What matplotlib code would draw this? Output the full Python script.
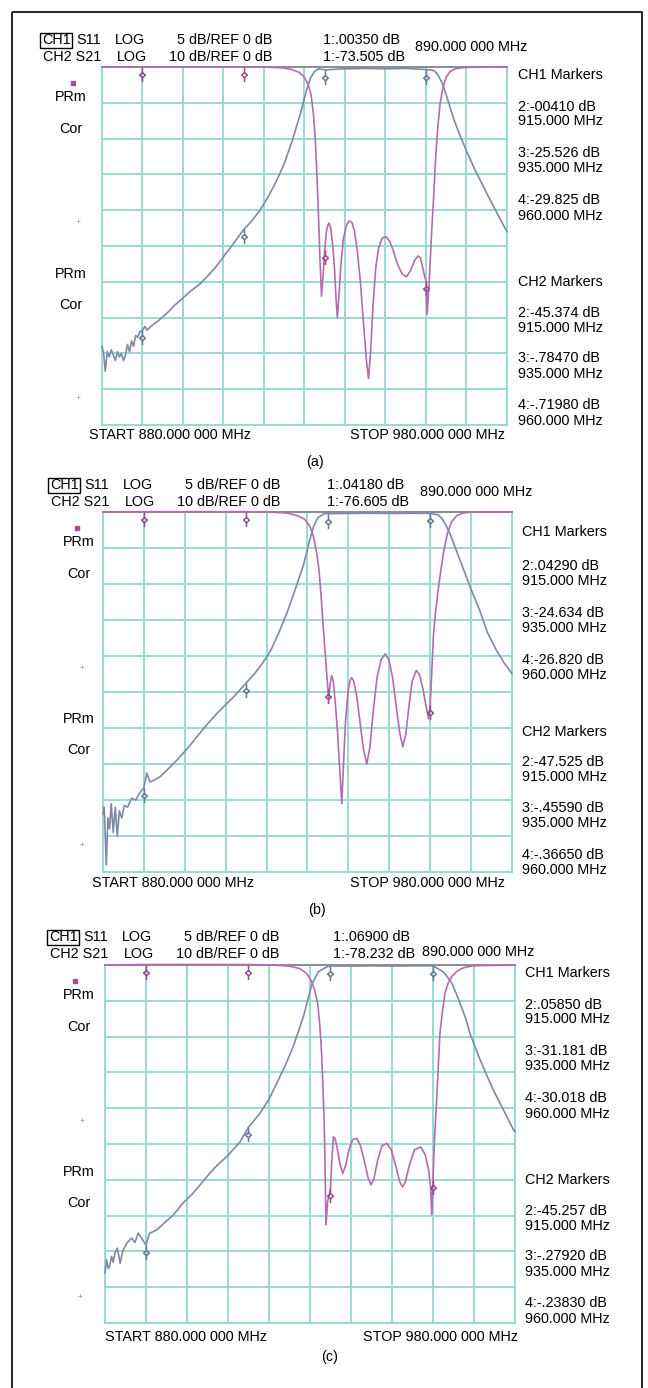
import numpy as np
import matplotlib
matplotlib.use('Agg')
import matplotlib.pyplot as plt
from matplotlib.path import Path
from matplotlib.patches import Rectangle

plt.rcParams['font.family'] = ['Liberation Sans', 'DejaVu Sans']

W, H = 648, 1388
FS = 10.4

''' network analyser traces, CH1 = S11 (5 dB/div), CH2 = S21 (10 dB/div) '''
mk_freq = [890, 915, 935, 960]
mk_freq_txt = ['915.000 MHz', '935.000 MHz', '960.000 MHz']

# (a)
s21_f_a = [880.0, 880.4, 880.8, 881.3, 881.8, 882.3, 882.8, 883.3, 883.8, 884.3, 884.8, 885.3,
           885.8, 886.3, 886.8, 887.3, 887.8, 888.3, 888.8, 889.3, 890.0, 890.6, 891.2, 892.0,
           894.0, 896.0, 898.0, 900.0, 902.0, 904.0, 906.0, 908.0, 910.0, 912.0, 915.0, 917.0,
           919.0, 921.0, 923.0, 925.0, 927.0, 929.0, 930.5, 931.5, 932.5, 933.5, 935.0, 940.0,
           945.0, 950.0, 955.0, 960.0, 962.0, 963.0, 964.0, 965.0, 966.0, 967.0, 968.0, 970.0,
           972.0, 974.0, 976.0, 978.0, 980.0]
s21_db_a = [-78, -80, -85, -79.5, -81, -79, -80.5, -82, -79.5, -81, -80, -82,
            -80.5, -77.5, -79.5, -76.5, -78, -75, -75.5, -74, -73.5, -72.5, -73.5, -72.5,
            -70.8, -68.8, -66.5, -64.5, -62.5, -60.8, -58.5, -56, -53, -50, -45.4, -43,
            -40, -36.3, -32, -27, -20.5, -13, -6.5, -3, -1.2, -0.5, -0.8, -0.5,
            -0.4, -0.5, -0.4, -0.7, -1.0, -2.3, -4.5, -7.8, -11.5, -15, -18, -23.5,
            -28.5, -33, -37.5, -41.8, -46]
s11_f_a = [880, 890, 900, 915, 920, 924, 926.5, 928.5, 929.8, 930.8, 931.6, 932.2, 932.7, 933.1,
           933.5, 933.8, 934.2, 934.6, 935.0, 935.4, 935.8, 936.1, 936.5, 936.9, 937.4, 937.8,
           938.1, 938.5, 939.0, 939.6, 940.3, 941.0, 941.7, 942.3, 943.0, 943.8, 944.6, 945.3,
           945.8, 946.3, 946.9, 947.6, 948.3, 949.2, 950.1, 951.0, 952.0, 953.0, 954.1, 955.2,
           956.2, 957.2, 958.0, 958.6, 959.2, 959.7, 960.0, 960.3, 960.8, 961.3, 961.9, 962.4,
           962.9, 963.5, 964.2, 965.0, 966.0, 967.5, 970, 980]
s11_db_a = [0, 0, 0, 0, -0.02, -0.1, -0.3, -0.7, -1.3, -2.3, -3.8, -6.5, -10.5, -15.5,
            -21.5, -26.5, -32, -29, -25.5, -23, -22, -21.8, -22.6, -24.5, -28, -32.5,
            -35, -32, -27.5, -24, -22.2, -21.5, -21.7, -22.8, -25.5, -30, -36, -41,
            -43.5, -40, -33.5, -28, -25.3, -23.9, -23.7, -24.3, -25.8, -27.6, -28.9, -29.3,
            -28.4, -27, -26.4, -26.6, -28, -29.4, -29.8, -34.5, -30, -24, -18, -12.5,
            -8.5, -5, -2.8, -1.4, -0.6, -0.2, -0.05, 0]
ch1_mk_a = [0.0035, -0.0041, -25.526, -29.825]
ch2_mk_a = [-73.505, -45.374, -0.7847, -0.7198]
ch1_txt_a = ['1:.00350 dB', '2:-00410 dB', '3:-25.526 dB', '4:-29.825 dB']
ch2_txt_a = ['1:-73.505 dB', '2:-45.374 dB', '3:-.78470 dB', '4:-.71980 dB']

# (b)
s21_f_b = [880.0, 880.3, 880.8, 881.2, 881.6, 882.0, 882.5, 883.0, 883.5, 884.0, 884.6, 885.2,
           886.0, 887.0, 888.0, 889.0, 890.0, 890.7, 891.5, 892.5, 894.0, 896.0, 898.0, 900.0,
           902.0, 904.0, 906.0, 908.0, 910.0, 912.0, 915.0, 917.0, 919.0, 921.0, 923.0, 925.0,
           927.0, 929.0, 930.5, 931.5, 932.5, 934.0, 935.0, 940.0, 945.0, 950.0, 955.0, 960.0,
           962.0, 963.0, 964.0, 965.0, 966.0, 967.0, 968.0, 970.0, 972.0, 974.0, 976.0, 978.0, 980.0]
s21_db_b = [-84, -82, -98, -85, -88, -81, -89, -82, -90, -83, -85, -81.5,
            -82, -79.5, -80, -78, -76.6, -72.5, -75, -74.5, -73.5, -71.3, -69, -66.5,
            -63.8, -61, -58.3, -55.8, -53.5, -51.3, -47.5, -45, -42, -38.5, -33.5, -28,
            -21.5, -14.8, -8, -4, -1.6, -0.5, -0.46, -0.4, -0.35, -0.4, -0.35, -0.37,
            -0.8, -2, -4, -6.5, -9.5, -12.5, -15.5, -21.5, -27, -33.5, -38, -41.8, -44.9]
s11_f_b = [880, 890, 915, 921, 925, 927.5, 929.3, 930.6, 931.5, 932.2, 932.8, 933.3, 933.8, 934.3,
           934.7, 935.0, 935.2, 935.5, 935.9, 936.3, 936.8, 937.4, 937.9, 938.4, 938.8, 939.3,
           939.9, 940.4, 940.8, 941.3, 942.0, 942.8, 943.7, 944.5, 945.3, 946.1, 947.0, 948.0,
           949.0, 949.9, 950.8, 951.7, 952.5, 953.3, 954.0, 954.8, 955.6, 956.6, 957.4, 958.2,
           959.0, 959.6, 960.0, 960.4, 960.8, 961.3, 961.8, 962.5, 963.3, 964.2, 965.2, 966.5,
           968, 970, 980]
s11_db_b = [0, 0.04, 0.04, -0.02, -0.15, -0.5, -1.0, -2.0, -3.5, -5.5, -8, -11.5, -15.5, -19.5,
            -22.5, -24.6, -26, -24, -22.7, -23.5, -26.5, -31, -36, -40.5, -35, -29,
            -25, -23.4, -23, -23.5, -25.5, -29, -33, -35, -32.5, -27.5, -23, -20.5,
            -19.7, -20.5, -23, -27, -30.5, -32.6, -31, -27, -23.5, -22, -22.6, -24.5,
            -27, -28.7, -26.8, -22, -17, -14, -11.5, -8.5, -5.5, -3, -1.4, -0.5,
            -0.15, 0, 0]
ch1_mk_b = [0.0418, 0.0429, -24.634, -26.820]
ch2_mk_b = [-76.605, -47.525, -0.4559, -0.3665]
ch1_txt_b = ['1:.04180 dB', '2:.04290 dB', '3:-24.634 dB', '4:-26.820 dB']
ch2_txt_b = ['1:-76.605 dB', '2:-47.525 dB', '3:-.45590 dB', '4:-.36650 dB']

# (c)
s21_f_c = [880.0, 880.4, 880.8, 881.1, 881.6, 882.0, 882.4, 883.0, 883.7, 884.3, 885.3, 886.5,
           887.3, 888.1, 889.3, 890.0, 890.8, 892.6, 894.5, 896.7, 899.0, 901.5, 903.5, 905.6,
           907.5, 909.7, 912.9, 915.0, 917.8, 920.0, 921.9, 924.0, 925.9, 928.4, 930.4, 932.0,
           934.1, 935.0, 940.0, 945.0, 950.0, 955.0, 960.0, 962.5, 963.5, 964.6, 965.6, 966.6,
           968.0, 969.0, 971.5, 973.0, 974.7, 977.2, 979.6, 980.0]
s21_db_c = [-86, -82.3, -84.8, -84.2, -81.4, -83, -80.5, -79.1, -83.3, -80, -77.7, -76.3,
            -77.5, -74.9, -77, -78.2, -75, -74, -72, -69.8, -66.5, -63.7, -61, -58.1,
            -55.8, -53.5, -49.5, -45.3, -41.4, -37.5, -33, -28, -22.8, -14.4, -5.6, -1.9,
            -0.5, -0.28, -0.3, -0.25, -0.3, -0.25, -0.24, -1.9, -3.3, -5.1, -7.8, -10.7,
            -15, -19.1, -26.5, -30.5, -34.9, -40.5, -46, -46.5]
s11_f_c = [880, 890, 915, 921, 925, 927.5, 929.2, 930.3, 931.2, 931.9, 932.4, 932.8, 933.1,
           933.4, 933.6, 933.9, 934.3, 934.7, 935.0, 935.3, 935.7, 936.1, 936.6, 937.3, 938.0,
           938.7, 939.5, 940.4, 941.4, 942.3, 943.3, 944.2, 944.9, 945.6, 946.5, 947.5, 948.7,
           949.8, 950.9, 951.9, 952.6, 953.3, 954.3, 955.5, 957.0, 958.1, 958.9, 959.4, 959.7,
           960.0, 960.4, 960.9, 961.3, 961.7, 962.3, 962.9, 963.7, 964.6, 965.6, 966.6, 968,
           970, 980]
s11_db_c = [0, 0.07, 0.06, -0.02, -0.15, -0.5, -1.2, -2.2, -3.6, -5.5, -8.5, -12, -16,
            -21, -25.5, -36.3, -33, -32.1, -31.2, -27.5, -24, -24.2, -25.5, -27.8, -29.1,
            -28, -25.8, -24.4, -24.2, -25.2, -27.5, -29.8, -30.7, -29.8, -27.3, -25.3, -24.9,
            -25.8, -28, -30.3, -31, -30.2, -27.8, -25.8, -25.4, -26.5, -28.5, -31, -34.9,
            -30.0, -24, -18.8, -14, -9.5, -6.5, -4, -2.5, -1.6, -1.0, -0.6, -0.3,
            -0.1, 0]
ch1_mk_c = [0.069, 0.0585, -31.181, -30.018]
ch2_mk_c = [-78.232, -45.257, -0.2792, -0.2383]
ch1_txt_c = ['1:.06900 dB', '2:.05850 dB', '3:-31.181 dB', '4:-30.018 dB']
ch2_txt_c = ['1:-78.232 dB', '2:-45.257 dB', '3:-.27920 dB', '4:-.23830 dB']

c_s21 = '#7d8aa7'
c_s11 = '#b46cae'
c_grid = '#98dad2'

# marker glyph: stem, open diamond, stem, hanging below the marker point
mk_path = Path([(0, 0), (0, -0.7), (0, -0.7), (0.4, -1.05), (0, -1.4), (-0.4, -1.05), (0, -0.7),
                (0, -1.4), (0, -2)],
               [Path.MOVETO, Path.LINETO, Path.MOVETO, Path.LINETO, Path.LINETO, Path.LINETO,
                Path.LINETO, Path.MOVETO, Path.LINETO])

panels = {
    'a': dict(s21=(s21_f_a, s21_db_a), s11=(s11_f_a, s11_db_a), mk1=ch1_mk_a, mk2=ch2_mk_a,
              t1=ch1_txt_a, t2=ch2_txt_a,
              box=(102, 67, 507, 425), hx=0, hy=40, mkx=323, fx=415, fy=47, rx=518,
              roff=[8, 40, 54, 86, 101, 133, 149, 215, 246, 261, 291, 307, 338, 354],
              by=435, startx=89, stopr=505, cap=(315, 462), lx=71, dot=(73, 83),
              plus=[(78, 222), (78, 398)]),
    'b': dict(s21=(s21_f_b, s21_db_b), s11=(s11_f_b, s11_db_b), mk1=ch1_mk_b, mk2=ch2_mk_b,
              t1=ch1_txt_b, t2=ch2_txt_b,
              box=(103, 512, 512, 872), hx=8, hy=485, mkx=327, fx=420, fy=492, rx=522,
              roff=[20, 54, 69, 101, 116, 148, 163, 220, 250, 265, 296, 311, 343, 358],
              by=883, startx=92, stopr=505, cap=(317, 910), lx=79, dot=(77, 528),
              plus=[(82, 668), (82, 845)]),
    'c': dict(s21=(s21_f_c, s21_db_c), s11=(s11_f_c, s11_db_c), mk1=ch1_mk_c, mk2=ch2_mk_c,
              t1=ch1_txt_c, t2=ch2_txt_c,
              box=(105, 965, 515, 1323), hx=7, hy=937, mkx=333, fx=422, fy=952, rx=525,
              roff=[8, 40, 54, 86, 101, 133, 149, 215, 246, 261, 291, 307, 338, 354],
              by=1337, startx=105, stopr=518, cap=(330, 1357), lx=79, dot=(75, 981),
              plus=[(82, 1122), (80, 1298)]),
}

fig = plt.figure(figsize=(W / 100, H / 100), dpi=100)

for key, p in panels.items():
    L, T, R, B = p['box']
    ax = fig.add_axes([L / W, 1 - B / H, (R - L) / W, (B - T) / H])
    ax.set_xlim(880, 980)
    ax.set_ylim(-100, 0)
    ax.set_xticks(np.arange(880, 981, 10))
    ax.set_yticks(np.arange(-100, 1, 10))
    ax.grid(True, color=c_grid, lw=1.4)
    ax.tick_params(length=0, labelleft=False, labelbottom=False)
    for s in ax.spines.values():
        s.set_color(c_grid)
        s.set_linewidth(1.4)
    ax.spines['top'].set_color('#8c8c98')
    ax2 = ax.twinx()
    ax2.set_ylim(-50, 0)
    ax2.set_yticks([])
    for s in ax2.spines.values():
        s.set_visible(False)

    f, d = p['s21']
    ax.plot(f, d, color=c_s21, lw=1.2, clip_on=False, zorder=3)
    ax.plot(mk_freq, p['mk2'], ls='none', marker=mk_path, ms=21, mew=1.1,
            mfc='none', mec='#6c7796', clip_on=False, zorder=4)
    f, d = p['s11']
    ax2.plot(f, d, color=c_s11, lw=1.2, clip_on=False, zorder=3)
    ax2.plot(mk_freq, p['mk1'], ls='none', marker=mk_path, ms=21, mew=1.1,
             mfc='none', mec='#984a92', clip_on=False, zorder=4)

# text layer in pixel units
ov = fig.add_axes([0, 0, 1, 1], zorder=10)
ov.set_xlim(0, W)
ov.set_ylim(H, 0)
ov.axis('off')
ov.patch.set_alpha(0)

ov.add_patch(Rectangle((12, 12), 630, H + 10, fill=False, ec='black', lw=1.2))

for key, p in panels.items():
    L, T, R, B = p['box']
    hx, y1 = p['hx'], p['hy']
    y2 = y1 + 17
    ov.add_patch(Rectangle((40 + hx, y1 - 7.5), 32, 15, fill=False, ec='black', lw=1.0))
    ov.text(42 + hx, y1, 'CH1', fontsize=FS, va='center')
    ov.text(76 + hx, y1, 'S11', fontsize=FS, va='center')
    ov.text(115 + hx, y1, 'LOG', fontsize=FS, va='center')
    ov.text(272 + hx, y1, '5 dB/REF 0 dB', fontsize=FS, va='center', ha='right')
    ov.text(p['mkx'], y1, p['t1'][0], fontsize=FS, va='center')
    ov.text(43 + hx, y2, 'CH2 S21', fontsize=FS, va='center')
    ov.text(117 + hx, y2, 'LOG', fontsize=FS, va='center')
    ov.text(272 + hx, y2, '10 dB/REF 0 dB', fontsize=FS, va='center', ha='right')
    ov.text(p['mkx'], y2, p['t2'][0], fontsize=FS, va='center')
    ov.text(p['fx'], p['fy'], '890.000 000 MHz', fontsize=FS, va='center')

    # marker readouts on the right
    lines = ['CH1 Markers']
    for i in range(3):
        lines += [p['t1'][i + 1], mk_freq_txt[i]]
    lines += ['CH2 Markers']
    for i in range(3):
        lines += [p['t2'][i + 1], mk_freq_txt[i]]
    for s, off in zip(lines, p['roff']):
        ov.text(p['rx'], T + off, s, fontsize=FS, va='center')

    for s, off in zip(['PRm', 'Cor', 'PRm', 'Cor'], [30, 62, 207, 238]):
        ov.text(p['lx'], T + off, s, fontsize=FS, va='center', ha='center')
    ov.plot(*p['dot'], 's', ms=2.2, color='#a05090')
    for px, py in p['plus']:
        ov.text(px, py, '+', fontsize=6, color='#8a8a8a', va='center', ha='center')

    ov.text(p['startx'], p['by'], 'START 880.000 000 MHz', fontsize=FS, va='center')
    ov.text(p['stopr'], p['by'], 'STOP 980.000 000 MHz', fontsize=FS, va='center', ha='right')
    ov.text(p['cap'][0], p['cap'][1], '(%s)' % key, fontsize=FS, va='center', ha='center')

fig.savefig('out.png', dpi=100)
